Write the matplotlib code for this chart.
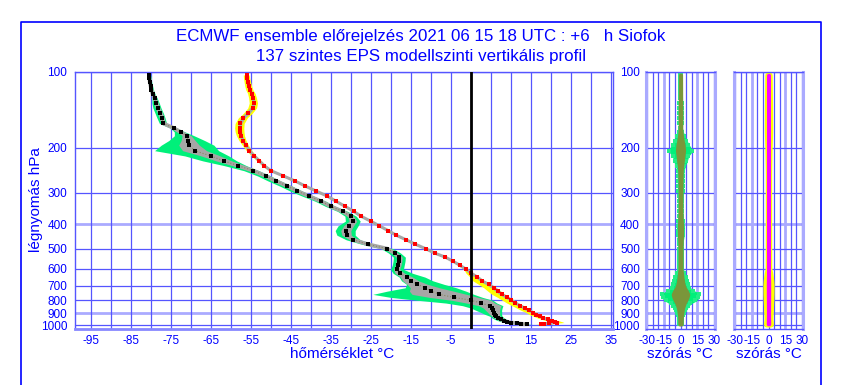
import numpy as np
import matplotlib.pyplot as plt
from matplotlib.lines import Line2D
from matplotlib.ticker import NullLocator

plt.rcParams['font.family'] = ['Liberation Sans', 'DejaVu Sans']

# model levels shown (hPa)
p_lev = [103, 106, 110, 114, 118, 122, 127, 133, 139, 146, 152, 160, 167, 173, 179,
         187, 195, 205, 215, 225, 235, 246, 258, 270, 283, 296, 310, 325, 340, 356,
         372, 389, 406, 424, 442, 461, 480, 500, 520, 540, 561, 582, 603, 625, 647,
         669, 691, 713, 735, 757, 778, 799, 819, 839, 858, 876, 893, 909, 924, 938,
         950, 961, 970, 978, 984, 989, 993]

# ensemble mean temperature (red) and dew point (black), degC
t_mean = [-56.0, -55.9, -55.7, -55.5, -55.2, -54.7, -54.4, -54.2, -54.5, -55.6, -56.8,
          -57.6, -57.7, -57.6, -57.4, -56.9, -56.2, -55.3, -54.1, -52.8, -51.6, -49.9,
          -46.8, -43.9, -41.3, -38.6, -35.8, -33.6, -31.4, -29.2, -27.4, -25.0, -22.8,
          -20.6, -18.6, -16.1, -13.8, -11.2, -9.0, -6.3, -4.3, -2.6, -1.1, 0.2, 1.7,
          2.8, 4.5, 5.8, 6.8, 7.8, 9.1, 10.2, 11.2, 12.4, 13.5, 14.5, 15.6, 16.3, 17.3,
          18.2, 19.3, 20.3, 21.0, 21.5, 19.5, 18.4, 17.7]
td_mean = [-80.4, -80.3, -80.2, -80.0, -79.8, -79.5, -79.0, -78.6, -78.2, -77.6, -77.2,
           -76.8, -74.2, -72.5, -71.0, -70.6, -70.4, -69.0, -65.0, -61.7, -58.1, -54.3,
           -51.2, -48.7, -45.8, -43.3, -40.4, -37.3, -35.0, -32.0, -30.0, -29.4, -30.5,
           -31.2, -31.0, -29.3, -25.7, -20.8, -19.0, -17.8, -17.9, -18.1, -18.5, -17.7,
           -16.0, -15.0, -13.3, -11.4, -9.8, -7.8, -4.2, 0.2, 2.5, 4.8, 5.3, 5.5, 5.8,
           6.0, 6.4, 6.9, 7.5, 8.3, 9.0, 10.2, 11.5, 12.7, 14.0]

# dew point ensemble: distance of min / max from mean, and std dev
td_env_p = [100, 125, 135, 150, 160, 170, 180, 190, 197, 205, 213, 227, 240, 260, 300,
            350, 380, 410, 440, 470, 500, 600, 645, 680, 705, 730, 750, 770, 790, 820,
            860, 925, 1000]
td_lo = [0.4, 0.5, 1.2, 1.3, 1.0, 0.8, 3.3, 5.5, 7.5, 10.0, 6.7, 5.0, 2.5, 2.0, 1.8,
         1.2, 1.5, 2.8, 2.5, 1.5, 1.5, 1.5, 1.8, 2.5, 3.0, 9.0, 17.0, 16.0, 15.5, 8.5,
         5.0, 1.5, 1.5]
td_hi = [0.4, 0.6, 0.8, 0.8, 0.8, 0.8, 2.0, 5.0, 6.7, 6.0, 4.8, 3.0, 1.5, 1.2, 1.2,
         1.2, 1.5, 2.5, 2.2, 1.5, 1.5, 1.5, 4.5, 6.0, 7.5, 8.5, 9.0, 8.0, 6.0, 4.0,
         2.5, 1.5, 1.5]
td_sd = [0.3, 0.4, 0.5, 0.6, 0.5, 0.5, 1.2, 2.0, 2.8, 3.0, 2.5, 1.8, 1.0, 0.8, 0.6,
         0.6, 0.8, 1.3, 1.2, 0.8, 0.7, 0.7, 1.5, 2.2, 3.0, 5.0, 7.0, 6.5, 5.5, 3.5,
         2.0, 1.0, 0.8]

# temperature ensemble
t_env_p = [100, 140, 170, 200, 250, 400, 600, 630, 680, 750, 850, 930, 970, 990, 1000]
t_lo = [0.8, 1.2, 1.3, 0.8, 0.4, 0.4, 0.5, 1.5, 2.5, 2.5, 2.0, 1.5, 1.5, 1.5, 1.5]
t_hi = [0.6, 1.0, 1.0, 0.6, 0.4, 0.4, 0.4, 0.5, 0.6, 0.8, 0.8, 1.0, 1.8, 2.0, 1.5]
t_sd = [0.3, 0.4, 0.4, 0.3, 0.2, 0.2, 0.2, 0.4, 0.6, 0.6, 0.5, 0.5, 0.6, 0.6, 0.6]

x_ticks = [-95, -85, -75, -65, -55, -45, -35, -25, -15, -5, 5, 15, 25, 35]
s_ticks = [-30, -15, 0, 15, 30]
p_ticks = [100, 200, 300, 400, 500, 600, 700, 800, 900, 1000]
p_light = [400, 900]

BLUE = '#0000ff'
GRID = '#5555ff'
LIGHT = '#aaaaff'
GREEN = '#00f07a'
GRAY = '#a6a6a6'
OLIVE = '#7a963a'

W, H = 841, 385
fig = plt.figure(figsize=(W / 100, H / 100), dpi=100)


def box(l, t, r, b):
    return [l / W, 1 - b / H, (r - l) / W, (b - t) / H]


def lerp(p_to, p_from, vals):
    return np.interp(np.log(p_to), np.log(p_from), vals)


def style(ax, xlim, ticks, light_x, ypad, show_y=True):
    ax.set_yscale('log')
    ax.yaxis.set_minor_locator(NullLocator())
    ax.set_yticks(p_ticks)
    ax.set_yticklabels([str(p) for p in p_ticks] if show_y else [])
    ax.set_xticks(ticks)
    ax.set_xticklabels([str(v) for v in ticks])
    ax.tick_params(which='both', length=0, colors=BLUE, labelsize=8.5)
    ax.tick_params(axis='y', pad=ypad)
    ax.tick_params(axis='x', pad=4.5)
    # grid drawn by hand so that a few lines can be lighter and wider
    for x in np.arange(-100, 40, 5):
        if xlim[0] < x < xlim[1]:
            if x in light_x:
                ax.axvline(x, color=LIGHT, lw=2.0, zorder=0.5)
            else:
                ax.axvline(x, color=GRID, lw=0.9, zorder=0.6)
    for p in p_ticks:
        if p in p_light:
            ax.axhline(p, color=LIGHT, lw=2.0, zorder=0.5)
        else:
            ax.axhline(p, color=GRID, lw=0.9, zorder=0.6)
    ax.set_ylim(1037, 100)
    ax.set_xlim(*xlim)
    for s in ax.spines.values():
        s.set_color(GRID)
        s.set_linewidth(1.0)


# ---- main profile panel
ax = fig.add_axes(box(75, 71.7, 613, 329))
style(ax, (-98.9, 35.6), x_ticks, [], 5.5)
ax.spines['bottom'].set_color('#8888ff')
ax.spines['bottom'].set_linewidth(2)

td = np.array(td_mean)
tt = np.array(t_mean)
dlo = lerp(p_lev, td_env_p, td_lo)
dhi = lerp(p_lev, td_env_p, td_hi)
dsd = lerp(p_lev, td_env_p, td_sd)
ax.fill_betweenx(p_lev, td - dlo, td + dhi, color=GREEN, lw=0, zorder=2)
ax.fill_betweenx(p_lev, td - dsd, td + dsd, color=GRAY, lw=0, zorder=3)
ax.plot(td, p_lev, color=GRAY, lw=2.8, zorder=3, solid_capstyle='butt')
ax.plot(td, p_lev, color='#8a8a60', lw=0.8, ls=':', zorder=3.5)
ax.plot(td, p_lev, ls='none', marker='s', ms=3.0, mew=0, color='black', zorder=4)

tlo = lerp(p_lev, t_env_p, t_lo)
thi = lerp(p_lev, t_env_p, t_hi)
tsd = lerp(p_lev, t_env_p, t_sd)
ax.fill_betweenx(p_lev, tt - tlo, tt + thi, color='#ffff00', lw=0, zorder=2)
ax.fill_betweenx(p_lev, tt - tsd, tt + tsd, color=GRAY, lw=0, zorder=3)
ax.plot(tt, p_lev, color=GRAY, lw=2.2, zorder=3, solid_capstyle='butt')
ax.plot(tt, p_lev, ls='none', marker='s', ms=2.7, mew=0, color='#ff0000', zorder=4)

ax.axvline(0, color='black', lw=2, zorder=5)

# ---- dew point spread panel
ax2 = fig.add_axes(box(646, 71.7, 715, 329))
style(ax2, (-31, 31), s_ticks, [-15, 15], 4.3)
for side in ['left', 'right']:
    ax2.spines[side].set_color(LIGHT)
    ax2.spines[side].set_linewidth(2.2)
spread = np.maximum(dlo, dhi)
ax2.fill_betweenx(p_lev, -spread, spread, color=GREEN, ec=GREEN, lw=1.5, zorder=2)
ax2.plot(-spread, p_lev, ls='none', marker='s', ms=2.5, mew=0, color='#22ee88', zorder=2)
ax2.plot(spread, p_lev, ls='none', marker='s', ms=2.5, mew=0, color='#22ee88', zorder=2)
ax2.fill_betweenx(p_lev, -dsd, dsd, color=OLIVE, ec=OLIVE, lw=2.5, zorder=3)

# ---- temperature spread panel
ax3 = fig.add_axes(box(734, 71.7, 803, 329))
style(ax3, (-31, 31), s_ticks, [-15, 15], 4.3, show_y=False)
for side in ['left', 'right']:
    ax3.spines[side].set_color(LIGHT)
    ax3.spines[side].set_linewidth(2.2)
tspread = np.maximum(tlo, thi)
ax3.fill_betweenx(p_lev, -tspread, tspread, color='#ffff00', ec='#ffff00', lw=4, zorder=2)
ax3.fill_betweenx(p_lev, -tsd, tsd, color='#ff00ff', ec='#ff00ff', lw=2.2, zorder=3)

# ---- texts
fig.text(421 / W, 1 - 37 / H, 'ECMWF ensemble előrejelzés 2021 06 15 18 UTC : +6   h Siofok',
         ha='center', va='center', color=BLUE, fontsize=12.2)
fig.text(421 / W, 1 - 57 / H, '137 szintes EPS modellszinti vertikális profil',
         ha='center', va='center', color=BLUE, fontsize=12.2)
fig.text(36 / W, 1 - 200 / H, 'légnyomás hPa', rotation=90, ha='center', va='center',
         color=BLUE, fontsize=11)
fig.text(290 / W, 1 - 354 / H, 'hőmérséklet °C', ha='left', va='center',
         color=BLUE, fontsize=11)
fig.text(680 / W, 1 - 354 / H, 'szórás °C', ha='center', va='center', color=BLUE, fontsize=11)
fig.text(769 / W, 1 - 354 / H, 'szórás °C', ha='center', va='center', color=BLUE, fontsize=11)

# outer frame
fx = [21 / W, 21 / W, 821 / W, 821 / W]
fy = [1 - 385 / H, 1 - 22 / H, 1 - 22 / H, 1 - 385 / H]
fig.add_artist(Line2D(fx, fy, transform=fig.transFigure, color=BLUE, lw=1.2))

fig.savefig('out.png', dpi=100)
